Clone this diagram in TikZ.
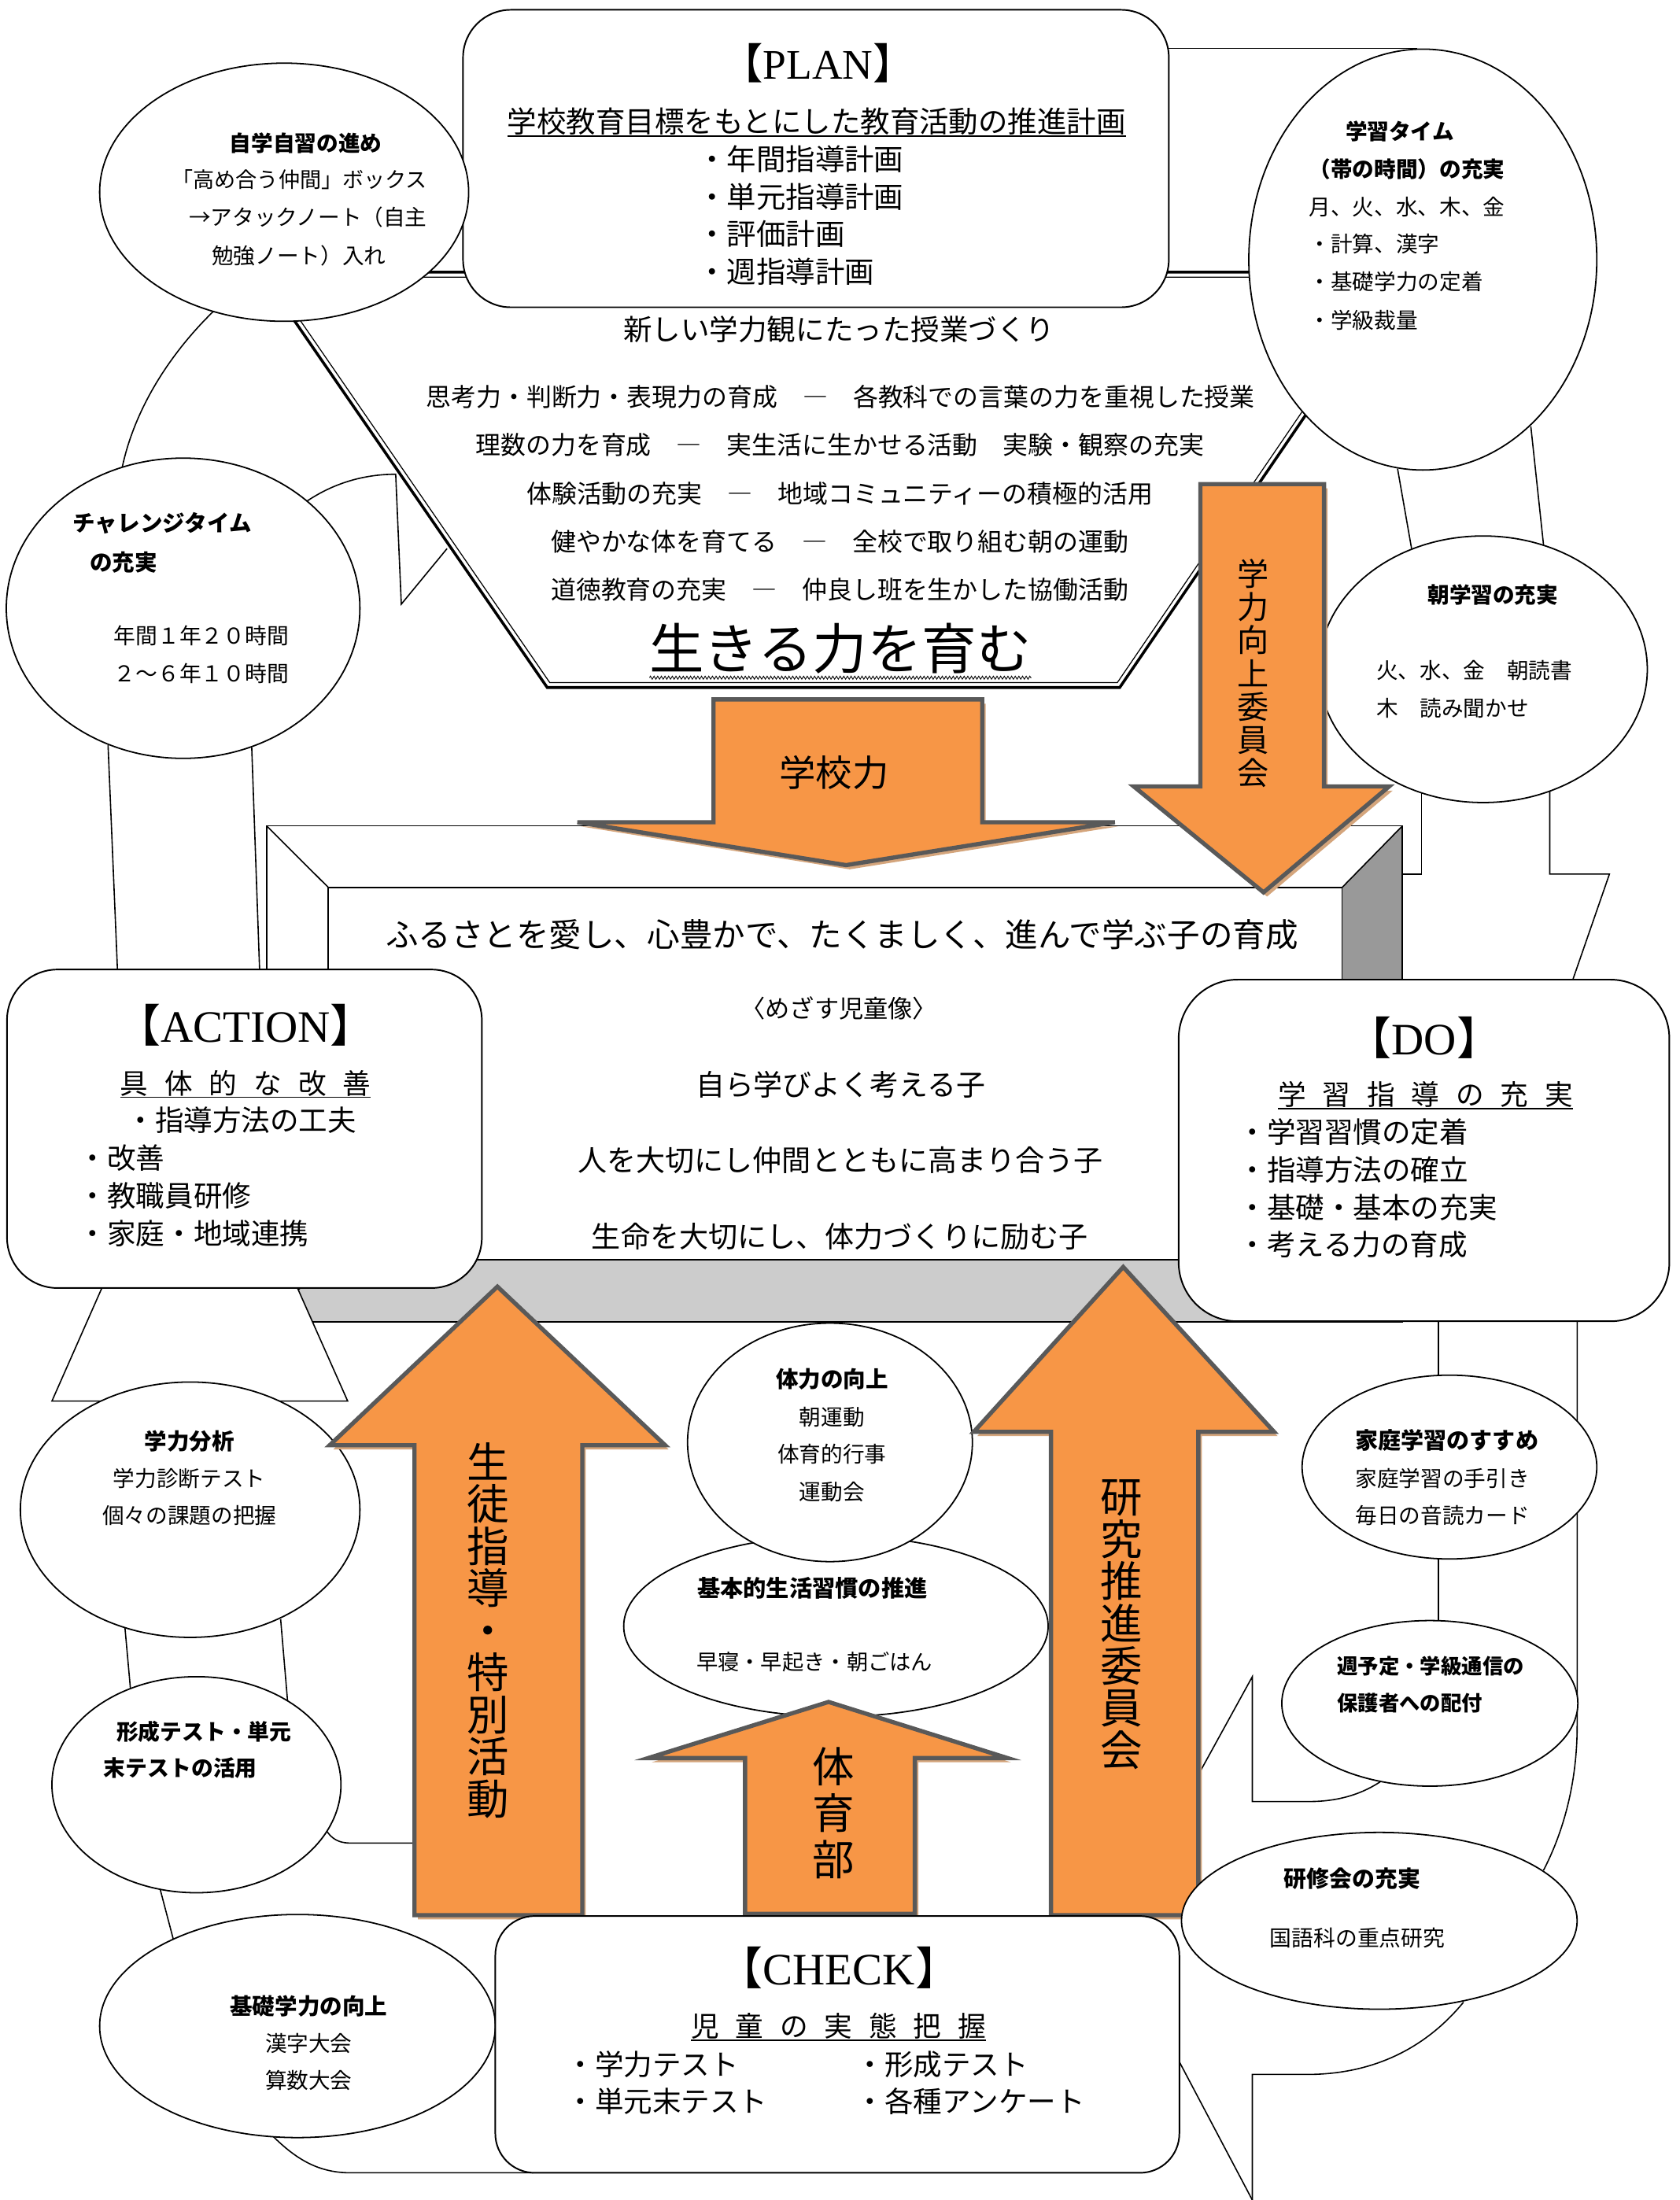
\documentclass[tikz,border=0pt]{standalone}
\usepackage{fontspec}
\setmainfont{Liberation Serif}
\newfontfamily\jp{Noto Sans CJK JP}
\usetikzlibrary{shapes.geometric,decorations.pathmorphing}
\definecolor{arrorange}{HTML}{F79646}
\definecolor{arrgray}{HTML}{595959}
\definecolor{shadowtan}{HTML}{D4A57C}
\definecolor{facedark}{HTML}{999999}
\definecolor{facelight}{HTML}{CCCCCC}
\newcommand\jf[1]{\fontsize{#1}{#1}\selectfont}
\newcommand\cs{\rule[-0.12em]{0pt}{1em}}
\newcommand\gp{\hspace{11.7pt}}
\tikzset{
  tx/.style={inner sep=0pt, outer sep=0pt, font=\jp\jf{#1}},
  txb/.style={inner sep=0pt, outer sep=0pt, font=\jp\bfseries\jf{#1}},
  vt/.style 2 args={inner sep=0pt, outer sep=0pt, align=center, font=\jp\fontsize{#1}{#2}\selectfont},
  bgline/.style={draw=black, line width=0.9pt},
  ell/.style={ellipse, draw=black, line width=1pt, fill=white, inner sep=0pt, outer sep=0pt},
  rbox/.style={rectangle, draw=black, line width=1.1pt, fill=white, inner sep=0pt, outer sep=0pt},
  orangearrow/.style={fill=arrorange, draw=arrgray, line width=3pt, line join=miter, miter limit=10},
  arrowshadow/.style={fill=shadowtan, draw=none},
  ulrule/.style={line width=0.9pt},
}
\begin{document}
\begin{tikzpicture}[x=1pt,y=-1pt]
\useasboundingbox (0,0) rectangle (1197,1568);
\fill[white] (0,0) rectangle (1197,1568);

% ---------- background loop lines ----------
\draw[bgline] (152.5,221.5) .. controls (118,255) and (95,295) .. (87,333.6);
\draw[bgline] (219,357) .. controls (240,343) and (262,338) .. (282,338) -- (286,430.6) -- (318.6,391);
\draw[bgline] (77,531) -- (83.7,691);
\draw[bgline] (179.4,532.6) -- (185,691);
\draw[bgline] (89,1159.5) -- (93,1204);
\draw[bgline] (200,1154) -- (205,1213);
\draw[bgline] (226,1290) .. controls (232,1308) and (238,1313.6) .. (250,1313.6) -- (296,1313.6);
\draw[bgline] (114,1346) -- (124,1384);
\draw[bgline] (194,1522) .. controls (212,1540) and (228,1548.6) .. (250,1548.6) -- (380,1548.6);
\draw[bgline] (833,34.6) -- (1010,34.6);
\draw[bgline] (996,334) -- (1006,391);
\draw[bgline] (1091,304) -- (1100,388);
\draw[bgline] (1013,564) -- (1013,623) -- (999.5,623);
\draw[bgline] (1104.5,564) -- (1104.5,623) -- (1147,623) -- (1121,698);
\draw[bgline] (1025,941.5) -- (1025,980);
\draw[bgline] (1025,1111) -- (1025,1155);
\draw[bgline] (1124,941.5) -- (1124,1230) .. controls (1124,1275) and (1112,1310) .. (1100,1333);
\draw[bgline] (854,1265) -- (892.5,1195) -- (892.5,1284) -- (933,1284) .. controls (955,1284) and (972,1278) .. (985,1269);
\draw[bgline] (840.5,1469.5) -- (892.5,1568);
\draw[bgline] (892.5,1568) -- (892.5,1478.5) -- (933,1478.5) .. controls (985,1478) and (1020,1455) .. (1043,1427);

% ---------- hexagon (double border) ----------
\draw[line width=2pt, fill=white, line join=miter] (186,194) -- (1000,194) -- (798,490) -- (390,490) -- cycle;
\draw[line width=0.7pt] (192.7,197.5) -- (993.4,197.5) -- (796.3,486.5) -- (391.8,486.5) -- cycle;

% ---------- PLAN box ----------
\node[rbox, rounded corners=34pt, minimum width=503pt, minimum height=212pt] (plan) at (581.5,113) {};

% ---------- central 3D box ----------
\fill[white] (190,588.6) rectangle (999.5,942);
\fill[facedark] (956.5,632.5) -- (999.5,588.6) -- (999.5,942) -- (956.5,898) -- cycle;
\fill[facelight] (190,942) -- (999.5,942) -- (956.5,898) -- (234,898) -- cycle;
\draw[line width=0.9pt] (190,588.6) rectangle (999.5,942);
\draw[line width=0.9pt] (234,632.5) rectangle (956.5,898);
\draw[line width=0.9pt] (190,588.6) -- (234,632.5);
\draw[line width=0.9pt] (999.5,588.6) -- (956.5,632.5);
\draw[line width=0.9pt] (190,942) -- (234,898);
\draw[line width=0.9pt] (999.5,942) -- (956.5,898);

% trapezoid under ACTION
\draw[bgline, fill=white] (72.6,918) -- (37,998.6) -- (247.8,998.6) -- (212,918);

% ---------- ellipses ----------
\node[ell, minimum width=263pt, minimum height=184pt] (eJishu) at (202.5,137) {};
\node[ell, minimum width=248pt, minimum height=300pt] (eGakushu) at (1014,185) {};
\node[ell, minimum width=252pt, minimum height=214pt] (eChallenge) at (130.5,433.5) {};
\node[ell, minimum width=234pt, minimum height=190pt] (eAsa) at (1057,477) {};
\node[ell, minimum width=242pt, minimum height=182pt] (eBunseki) at (135.5,1076) {};
\node[ell, minimum width=206pt, minimum height=154pt] (eKeisei) at (140,1272) {};
\node[ell, minimum width=282pt, minimum height=159pt] (eKiso) at (212,1444) {};
\node[ell, minimum width=210pt, minimum height=131pt] (eKatei) at (1033,1045.6) {};
\node[ell, minimum width=211pt, minimum height=118pt] (eShuyotei) at (1019,1214) {};
\node[ell, minimum width=302.5pt, minimum height=129pt] (eKihon) at (595.75,1159) {};
\node[ell, minimum width=203pt, minimum height=170pt] (eTairyoku) at (591.5,1028) {};

% ---------- ACTION / DO boxes ----------
\node[rbox, rounded corners=36pt, minimum width=338.4pt, minimum height=227pt] (action) at (174.2,804.5) {};
\node[rbox, rounded corners=42pt, minimum width=349.7pt, minimum height=243.5pt] (do) at (1014.85,819.95) {};

% ---------- orange arrows ----------
% 学校力 (down)
\fill[arrowshadow, shift={(2.5,3)}] (508.5,498.5) -- (700,498.5) -- (700,586) -- (794.5,586) -- (603,616.6) -- (411.5,586) -- (508.5,586) -- cycle;
\draw[orangearrow] (508.5,498.5) -- (700,498.5) -- (700,586) -- (794.5,586) -- (603,616.6) -- (411.5,586) -- (508.5,586) -- cycle;
% 学力向上委員会 (down)
\fill[arrowshadow, shift={(2.5,3)}] (855.5,345) -- (943.6,345) -- (943.6,560.5) -- (990,560.5) -- (900.5,636) -- (808,560.5) -- (855.5,560.5) -- cycle;
\draw[orangearrow] (855.5,345) -- (943.6,345) -- (943.6,560.5) -- (990,560.5) -- (900.5,636) -- (808,560.5) -- (855.5,560.5) -- cycle;
% 生徒指導・特別活動 (up)
\fill[arrowshadow, shift={(2.5,3)}] (354.5,917) -- (474,1030) -- (415,1030) -- (415,1365) -- (295.4,1365) -- (295.4,1030) -- (235,1030) -- cycle;
\draw[orangearrow] (354.5,917) -- (474,1030) -- (415,1030) -- (415,1365) -- (295.4,1365) -- (295.4,1030) -- (235,1030) -- cycle;
% 研究推進委員会 (up)
\fill[arrowshadow, shift={(2.5,3)}] (800.5,903) -- (908,1020.5) -- (854,1020.5) -- (854,1365) -- (749,1365) -- (749,1020.5) -- (694,1020.5) -- cycle;
\draw[orangearrow] (800.5,903) -- (908,1020.5) -- (854,1020.5) -- (854,1365) -- (749,1365) -- (749,1020.5) -- (694,1020.5) -- cycle;
% 体育部 (up)
\fill[arrowshadow, shift={(2.5,3)}] (590.5,1213) -- (718,1253) -- (652,1253) -- (652,1364) -- (531,1364) -- (531,1253) -- (462,1253) -- cycle;
\draw[orangearrow] (590.5,1213) -- (718,1253) -- (652,1253) -- (652,1364) -- (531,1364) -- (531,1253) -- (462,1253) -- cycle;

% ---------- CHECK box and 研修会 ----------
\node[rbox, rounded corners=28pt, minimum width=487.5pt, minimum height=183pt] (check) at (596.75,1457.1) {};
\node[ell, minimum width=282pt, minimum height=126pt] (eKenshu) at (983,1369) {};

% ---------- texts: PLAN ----------
\node[tx=30] (tPlan) at (583,45) {【{\rmfamily PLAN}】\cs};
\node[tx=21] (tPlanSub) at (582,86.5) {学校教育目標をもとにした教育活動の推進計画\cs};
\draw[ulrule] (tPlanSub.south west) -- (tPlanSub.south east);
\node[tx=21, anchor=west] (tP1) at (497,113.5) {・年間指導計画\cs};
\node[tx=21, anchor=west] (tP2) at (497,140.2) {・単元指導計画\cs};
\node[tx=21, anchor=west] (tP3) at (497,166.9) {・評価計画\cs};
\node[tx=21, anchor=west] (tP4) at (497,193.6) {・週指導計画\cs};

% ---------- texts: hexagon ----------
\node[tx=20.5] (tH0) at (598,235) {新しい学力観にたった授業づくり\cs};
\node[tx=17.9] (tH1) at (599,283) {思考力・判断力・表現力の育成　―　各教科での言葉の力を重視した授業\cs};
\node[tx=17.9] (tH2) at (598.5,317) {理数の力を育成　―　実生活に生かせる活動　実験・観察の充実\cs};
\node[tx=17.9] (tH3) at (598.5,352) {体験活動の充実　―　地域コミュニティーの積極的活用\cs};
\node[tx=17.9] (tH4) at (598.5,386) {健やかな体を育てる　―　全校で取り組む朝の運動\cs};
\node[tx=17.9] (tH5) at (598.5,420) {道徳教育の充実　―　仲良し班を生かした協働活動\cs};
\node[tx=39] (tIkiru) at (599,462) {生きる力を育む\cs};
\draw[decorate, decoration={zigzag, amplitude=1.1pt, segment length=2.6pt}, line width=0.5pt]
  ([yshift=-1.5pt]tIkiru.south west) -- ([yshift=-1.5pt]tIkiru.south east);

% ---------- texts: arrows ----------
\node[tx=26] (tGakko) at (594.5,550.6) {学校力\cs};
\node[vt={22.5}{23.7}] (tKojo) at (893,480) {学\cs\\力\cs\\向\cs\\上\cs\\委\cs\\員\cs\\会\cs};
\node[vt={30}{30}] (tSeito) at (348,1162) {生\cs\\徒\cs\\指\cs\\導\cs\\・\cs\\特\cs\\別\cs\\活\cs\\動\cs};
\node[vt={30}{30.1}] (tKenkyu) at (799,1157) {研\cs\\究\cs\\推\cs\\進\cs\\委\cs\\員\cs\\会\cs};
\node[vt={30}{33}] (tTaiiku) at (594,1292) {体\cs\\育\cs\\部\cs};

% ---------- texts: central box ----------
\node[tx=23.3] (tFurusato) at (600,666) {ふるさとを愛し、心豊かで、たくましく、進んで学ぶ子の育成\cs};
\node[tx=17.5] (tMezasu) at (598,719) {〈めざす児童像〉\cs};
\node[tx=20.7] (tC1) at (599,773) {自ら学びよく考える子\cs};
\node[tx=20.8] (tC2) at (599,827) {人を大切にし仲間とともに高まり合う子\cs};
\node[tx=20.8] (tC3) at (598.5,881) {生命を大切にし、体力づくりに励む子\cs};

% ---------- texts: ACTION ----------
\node[tx=32] (tAction) at (175,730.6) {【{\rmfamily ACTION}】\cs};
\node[tx=20] (tActSub) at (175,772) {具\gp 体\gp 的\gp な\gp 改\gp 善\cs};
\draw[ulrule] (tActSub.south west) -- (tActSub.south east);
\node[tx=20.5, anchor=west] (tA1) at (90,798.5) {・指導方法の工夫\cs};
\node[tx=20.5, anchor=west] (tA2) at (56,825.4) {・改善\cs};
\node[tx=20.5, anchor=west] (tA3) at (56,852) {・教職員研修\cs};
\node[tx=20.5, anchor=west] (tA4) at (56,879) {・家庭・地域連携\cs};

% ---------- texts: DO ----------
\node[tx=32] (tDo) at (1015,739.5) {【{\rmfamily DO}】\cs};
\node[tx=20] (tDoSub) at (1016,780) {学\gp 習\gp 指\gp 導\gp の\gp 充\gp 実\cs};
\draw[ulrule] (tDoSub.south west) -- (tDoSub.south east);
\node[tx=20.5, anchor=west] (tD1) at (882.5,806.8) {・学習習慣の定着\cs};
\node[tx=20.5, anchor=west] (tD2) at (882.5,833.5) {・指導方法の確立\cs};
\node[tx=20.5, anchor=west] (tD3) at (882.5,860.4) {・基礎・基本の充実\cs};
\node[tx=20.5, anchor=west] (tD4) at (882.5,887) {・考える力の育成\cs};

% ---------- texts: CHECK ----------
\node[tx=32] (tCheck) at (598,1402.5) {【{\rmfamily CHECK}】\cs};
\node[tx=20] (tChkSub) at (597.6,1444) {児\gp 童\gp の\gp 実\gp 態\gp 把\gp 握\cs};
\draw[ulrule] (tChkSub.south west) -- (tChkSub.south east);
\node[tx=20.5, anchor=west] (tK1) at (403.5,1471.5) {・学力テスト\cs};
\node[tx=20.5, anchor=west] (tK2) at (610,1471.5) {・形成テスト\cs};
\node[tx=20.5, anchor=west] (tK3) at (403.5,1497.8) {・単元末テスト\cs};
\node[tx=20.5, anchor=west] (tK4) at (610,1497.8) {・各種アンケート\cs};

% ---------- texts: ellipses ----------
\node[txb=15.5] (tJ0) at (218,102) {自学自習の進め\cs};
\node[tx=15.2] (tJ1) at (213.5,128) {「高め合う仲間」ボックス\cs};
\node[tx=15.5] (tJ2) at (219.5,155) {→アタックノート（自主\cs};
\node[tx=15.5] (tJ3) at (213,182) {勉強ノート）入れ\cs};

\node[txb=15.5, anchor=west] (tG0) at (959,93.5) {学習タイム\cs};
\node[txb=15.5, anchor=west] (tG1) at (933,120.5) {（帯の時間）の充実\cs};
\node[tx=15.5, anchor=west] (tG2) at (933,147.5) {月、火、水、木、金\cs};
\node[tx=15.5, anchor=west] (tG3) at (933,174) {・計算、漢字\cs};
\node[tx=15.5, anchor=west] (tG4) at (933,201) {・基礎学力の定着\cs};
\node[tx=15.5, anchor=west] (tG5) at (933,228) {・学級裁量\cs};

\node[txb=16, anchor=west] (tCh0) at (52,373) {チャレンジタイム\cs};
\node[txb=16, anchor=west] (tCh1) at (64,400.5) {の充実\cs};
\node[tx=15.6] (tCh2) at (143.5,453) {年間１年２０時間\cs};
\node[tx=15.6] (tCh3) at (143.5,480) {２～６年１０時間\cs};

\node[txb=15.5] (tAs0) at (1064,424) {朝学習の充実\cs};
\node[tx=15.5, anchor=west] (tAs1) at (981,478) {火、水、金　朝読書\cs};
\node[tx=15.5, anchor=west] (tAs2) at (981,504.6) {木　読み聞かせ\cs};

\node[txb=16] (tB0) at (135,1027) {学力分析\cs};
\node[tx=15.5] (tB1) at (135,1053.5) {学力診断テスト\cs};
\node[tx=15.5] (tB2) at (135,1080) {個々の課題の把握\cs};

\node[txb=15.6, anchor=west] (tKs0) at (83,1234) {形成テスト・単元\cs};
\node[txb=15.6, anchor=west] (tKs1) at (74,1260) {末テストの活用\cs};

\node[txb=16] (tKi0) at (220,1430) {基礎学力の向上\cs};
\node[tx=15.5] (tKi1) at (220,1456.5) {漢字大会\cs};
\node[tx=15.5] (tKi2) at (220,1483) {算数大会\cs};

\node[txb=16] (tT0) at (593,983) {体力の向上\cs};
\node[tx=15.5] (tT1) at (593,1010) {朝運動\cs};
\node[tx=15.5] (tT2) at (593,1036.5) {体育的行事\cs};
\node[tx=15.5] (tT3) at (593,1063) {運動会\cs};

\node[txb=16.4] (tKh0) at (579,1132) {基本的生活習慣の推進\cs};
\node[tx=15.3] (tKh1) at (580.5,1184.5) {早寝・早起き・朝ごはん\cs};

\node[txb=16.3, anchor=west] (tKt0) at (966,1026.6) {家庭学習のすすめ\cs};
\node[tx=15.5, anchor=west] (tKt1) at (966,1053.5) {家庭学習の手引き\cs};
\node[tx=15.5, anchor=west] (tKt2) at (966,1080) {毎日の音読カード\cs};

\node[txb=14.8, anchor=west] (tS0) at (953,1187.5) {週予定・学級通信の\cs};
\node[txb=14.8, anchor=west] (tS1) at (953,1214) {保護者への配付\cs};

\node[txb=16.2, anchor=west] (tKn0) at (915,1339) {研修会の充実\cs};
\node[tx=15.6, anchor=west] (tKn1) at (905,1381) {国語科の重点研究\cs};
\end{tikzpicture}
\end{document}
